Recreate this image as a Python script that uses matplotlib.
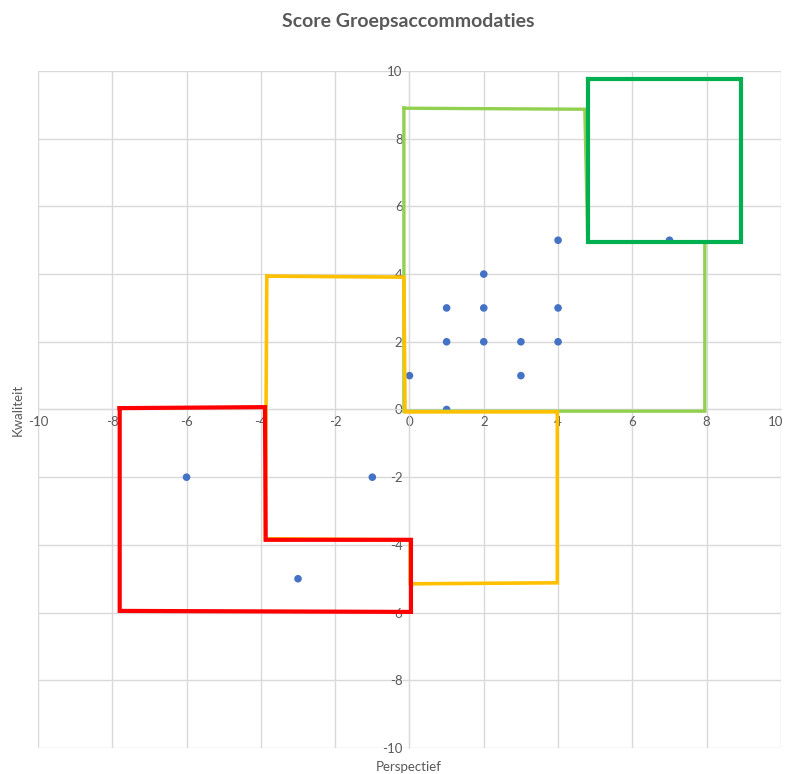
import matplotlib.pyplot as plt
from matplotlib.transforms import ScaledTranslation

# scores per accommodatie: perspectief (x) en kwaliteit (y)
perspectief = [0, 1, 1, 1, 2, 2, 2, 3, 3, 4, 4, 4, 7, -6, -1, -3]
kwaliteit = [1, 0, 2, 3, 2, 3, 4, 1, 2, 2, 3, 5, 5, -2, -2, -5]

# omlijnde zones (hoekpunten in score-eenheden)
zone_lichtgroen = [(-0.15, 8.9), (4.72, 8.87), (4.8, 4.95), (7.95, 4.95),
                   (7.95, -0.05), (-0.15, -0.05)]
zone_donkergroen = [(4.8, 9.76), (8.93, 9.76), (8.93, 4.95), (4.8, 4.95)]
zone_oranje = [(-3.84, 3.94), (-0.15, 3.91), (-0.12, -0.07), (3.98, -0.07),
               (3.98, -5.12), (0.02, -5.15), (0.02, -3.85), (-3.88, -3.82)]
zone_rood = [(-7.8, 0.04), (-3.89, 0.07), (-3.87, -3.85), (0.04, -3.85),
             (0.04, -5.98), (-7.8, -5.95)]

zones = [
    (zone_lichtgroen, "#92D050", 2.4),
    (zone_oranje, "#FFC000", 2.6),
    (zone_rood, "#FF0000", 3.0),
    (zone_donkergroen, "#00B050", 3.0),
]

plt.rcParams['font.family'] = ['Lato', 'DejaVu Sans']
plt.rcParams['axes.unicode_minus'] = False

fig = plt.figure(figsize=(7.86, 7.74), dpi=100)
ax = fig.add_axes([0.0483, 0.0336, 0.9453, 0.8747])

ax.set_xlim(-10, 10)
ax.set_ylim(-10, 10)
ax.set_xticks(range(-10, 11, 2))
ax.set_yticks(range(-10, 11, 2))
ax.grid(True, color="#D9D9D9", linewidth=1)
ax.set_axisbelow(True)

for side in ["top", "right"]:
    ax.spines[side].set_visible(False)
ax.spines["left"].set_position("zero")
ax.spines["bottom"].set_position("zero")
ax.spines["left"].set_color("#D9D9D9")
ax.spines["bottom"].set_color("#D9D9D9")
ax.tick_params(length=0, labelsize=9.5, labelcolor="#595959", pad=5)

# laatste label iets naar links zodat het binnen de figuur valt
fig.canvas.draw()
last = ax.get_xticklabels()[-1]
last.set_transform(last.get_transform()
                   + ScaledTranslation(-4 / 72, 0, fig.dpi_scale_trans))

ax.scatter(perspectief, kwaliteit, s=30, color="#4472C4", zorder=3,
           edgecolors="none")

for punten, kleur, dikte in zones:
    xs = [p[0] for p in punten] + [punten[0][0]]
    ys = [p[1] for p in punten] + [punten[0][1]]
    ax.plot(xs, ys, color=kleur, linewidth=dikte, zorder=4,
            solid_joinstyle="miter")

fig.text(0.52, 0.9716, "Score Groepsaccommodaties", ha="center", va="center",
         fontsize=14, fontweight="bold", color="#595959")
fig.text(0.52, 0.009, "Perspectief", ha="center", va="center",
         fontsize=9.5, color="#595959")
fig.text(0.023, 0.47, "Kwaliteit", ha="center", va="center", rotation=90,
         fontsize=9.5, color="#595959")

fig.savefig("out.png", dpi=100)
